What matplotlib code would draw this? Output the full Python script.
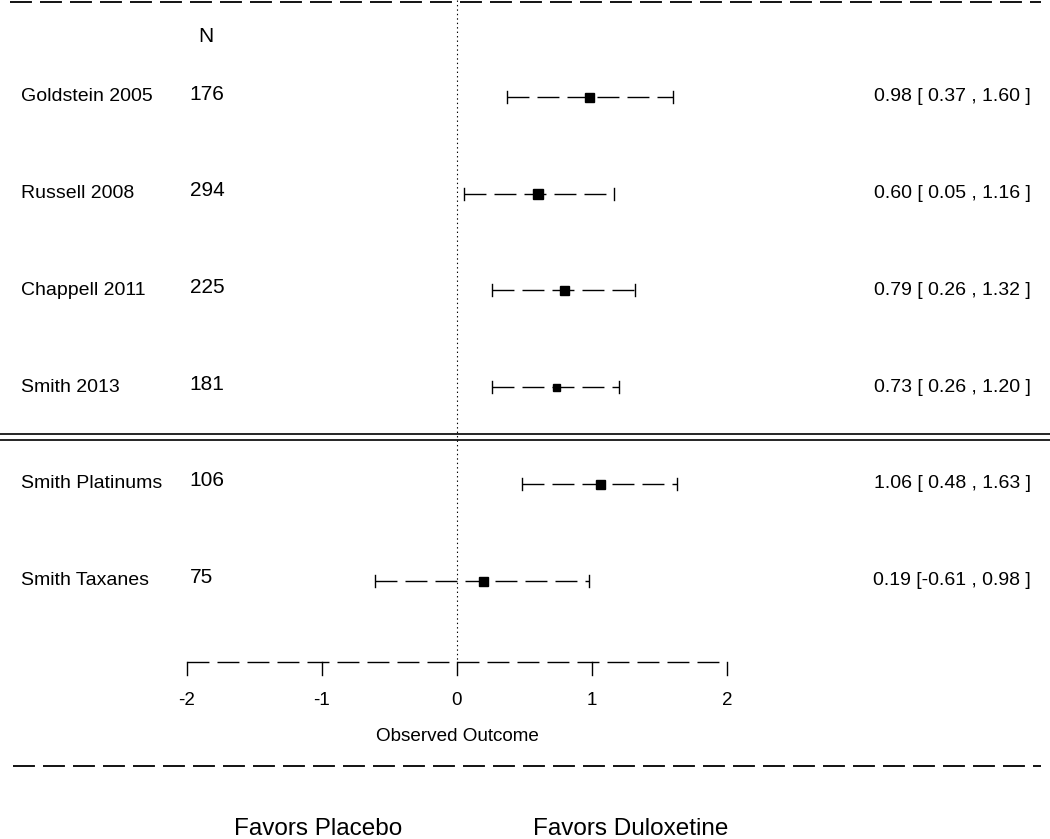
import matplotlib.pyplot as plt

plt.rcParams['font.family'] = ['Liberation Sans', 'DejaVu Sans']
plt.rcParams['lines.scale_dashes'] = False

# study data
studies = ["Goldstein 2005", "Russell 2008", "Chappell 2011", "Smith 2013",
           "Smith Platinums", "Smith Taxanes"]
n_pat = [176, 294, 225, 181, 106, 75]
est = [0.98, 0.60, 0.79, 0.73, 1.06, 0.19]
ci_low = [0.37, 0.05, 0.26, 0.26, 0.48, -0.61]
ci_high = [1.60, 1.16, 1.32, 1.20, 1.63, 0.98]
box_px = [9, 10, 9, 7, 9, 9]
xticks = [-2, -1, 0, 1, 2]

DASH = (0, (15.8, 5.8))

fig = plt.figure(figsize=(10.5, 8.39), dpi=100)
ax = fig.add_axes([0, 0, 1, 1])
ax.set_xlim(-3.385, 4.393)
ax.set_ylim(7.673, -1.003)
ax.axis('off')

rows = list(range(len(studies)))

# reference line at 0
ax.plot([0, 0], [-1.003, 5.843], color='black', lw=0.8, ls=(0, (1, 2.2)))

# top / bottom dashed separators
ax.plot([-3.31, 4.33], [-0.982, -0.982], color='black', lw=1.3, ls=DASH)
ax.plot([-3.29, 4.33], [6.918, 6.918], color='black', lw=1.3, ls=DASH)

# double line between groups
ax.axhline(3.485, color='black', lw=1.2)
ax.axhline(3.547, color='black', lw=1.2)

for i in rows:
    ax.plot([ci_low[i], ci_high[i]], [i, i], color='black', lw=1.0, ls=DASH)
    ax.plot([ci_low[i], ci_low[i]], [i - 0.062, i + 0.062], color='black', lw=1.0)
    ax.plot([ci_high[i], ci_high[i]], [i - 0.062, i + 0.062], color='black', lw=1.0)
    ax.plot(est[i], i, marker='s', color='black', markersize=box_px[i] * 0.72, ls='none')
    ax.text(-3.23, i, studies[i], ha='left', va='center', fontsize=14)
    ax.text(-1.98, i - 0.03, str(n_pat[i]), ha='left', va='center', fontsize=15)
    label = "%.2f [%5.2f , %.2f ]" % (est[i], ci_low[i], ci_high[i])
    ax.text(4.252, i, label, ha='right', va='center', fontsize=14)

ax.text(-1.857, -0.63, "N", ha='center', va='center', fontsize=15)

# x axis drawn by hand
ax.plot([xticks[0], xticks[-1]], [5.843, 5.843], color='black', lw=1.0, ls=DASH)
for t in xticks:
    ax.plot([t, t], [5.843, 5.977], color='black', lw=1.0)
    ax.text(t, 6.236, str(t), ha='center', va='center', fontsize=13.5)
ax.text(0, 6.618, "Observed Outcome", ha='center', va='center', fontsize=13.6)

ax.text(-1.030, 7.57, "Favors Placebo", ha='center', va='center', fontsize=17.5)
ax.text(1.289, 7.57, "Favors Duloxetine", ha='center', va='center', fontsize=17.5)

fig.savefig("out.png", dpi=100)
